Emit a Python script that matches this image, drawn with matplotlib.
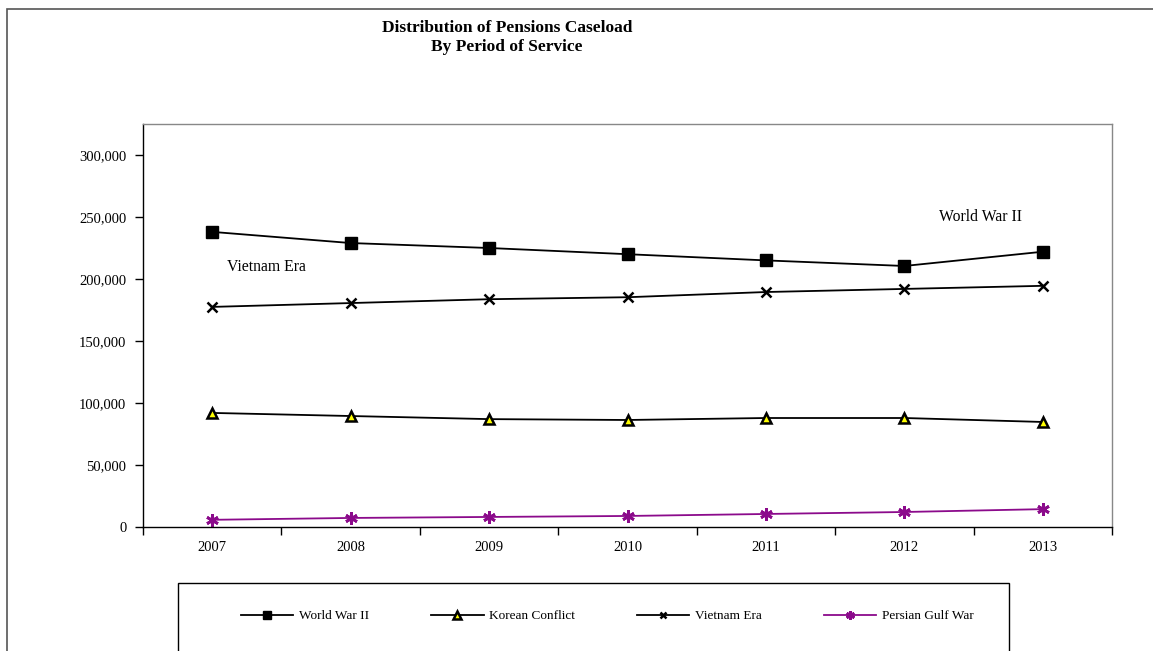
import matplotlib
matplotlib.use('Agg')
import matplotlib.pyplot as plt
from matplotlib.patches import Rectangle
from matplotlib.ticker import FuncFormatter, FixedLocator

years = ['2007', '2008', '2009', '2010', '2011', '2012', '2013']
world_war_ii = [238000, 229000, 225000, 220000, 215000, 210500, 222000]
korean_conflict = [92000, 89500, 87000, 86300, 87900, 87900, 84700]
vietnam_era = [177500, 180600, 183700, 185300, 189500, 192000, 194500]
persian_gulf = [5800, 7300, 8100, 8900, 10500, 12100, 14400]

plt.rcParams['font.family'] = ['Liberation Serif', 'DejaVu Serif']

W, H = 1153, 651
fig = plt.figure(figsize=(W / 100, H / 100), dpi=100, facecolor='white')

# outer frame (runs past the right and bottom edges)
fig.patches.append(Rectangle((7 / W, -0.1), 1.2, 1 - 9 / H + 0.1, transform=fig.transFigure,
                             fill=False, edgecolor='#555555', linewidth=1.2))

ax = fig.add_axes([143 / W, 1 - 527 / H, (1112 - 143) / W, (527 - 124) / H])
x = list(range(len(years)))

ax.plot(x, world_war_ii, color='black', linewidth=1.3, marker='s', markersize=8,
        markerfacecolor='black', label='World War II')
ax.plot(x, korean_conflict, color='black', linewidth=1.3, marker='^', markersize=7.5,
        markerfacecolor='#FFFF00', markeredgecolor='black', markeredgewidth=1.8,
        label='Korean Conflict')
ax.plot(x, vietnam_era, color='black', linewidth=1.3, marker='x', markersize=7,
        markeredgewidth=1.8, label='Vietnam Era')
ax.plot(x, persian_gulf, color='#8B0A8B', linewidth=1.3, marker=(6, 2, 0), markersize=9,
        markeredgewidth=2, label='Persian Gulf War')

ax.set_xlim(-0.5, len(years) - 0.5)
ax.set_ylim(0, 325000)
ax.set_yticks(range(0, 300001, 50000))
ax.yaxis.set_major_formatter(FuncFormatter(lambda v, p: f'{int(v):,}'))
ax.set_xticks(x)
ax.set_xticklabels(years)
ax.xaxis.set_minor_locator(FixedLocator([i - 0.5 for i in range(len(years) + 1)]))
ax.tick_params(axis='x', which='major', length=0, pad=10, labelsize=10.5)
ax.tick_params(axis='x', which='minor', length=6, direction='out', width=1)
ax.tick_params(axis='y', length=6, direction='out', width=1, labelsize=10.5, pad=6)

ax.spines['left'].set_color('black')
ax.spines['bottom'].set_color('black')
ax.spines['top'].set_color('#888888')
ax.spines['right'].set_color('#888888')
for s in ax.spines.values():
    s.set_linewidth(1.0)

ax.text(0.11, 210000, 'Vietnam Era', fontsize=11.3, ha='left', va='center')
ax.text(5.55, 250000, 'World War II', fontsize=11.3, ha='center', va='center')

fig.text(507 / W, 1 - 28 / H, 'Distribution of Pensions Caseload', ha='center', va='center',
         fontsize=12.5, fontweight='bold')
fig.text(507 / W, 1 - 47 / H, 'By Period of Service', ha='center', va='center',
         fontsize=12.5, fontweight='bold')

# legend box
fig.patches.append(Rectangle((178 / W, -0.1), (1009 - 178) / W, 0.1 + (651 - 583) / H,
                             transform=fig.transFigure, fill=False, edgecolor='black',
                             linewidth=1.0))
fig.legend(loc='center', bbox_to_anchor=(607 / W, 1 - 616 / H), ncol=4, frameon=False,
           fontsize=9.5, handlelength=4.0, columnspacing=4.7, handletextpad=0.4,
           markerscale=0.7)

plt.savefig('out.png', dpi=100, facecolor='white')
plt.close()
